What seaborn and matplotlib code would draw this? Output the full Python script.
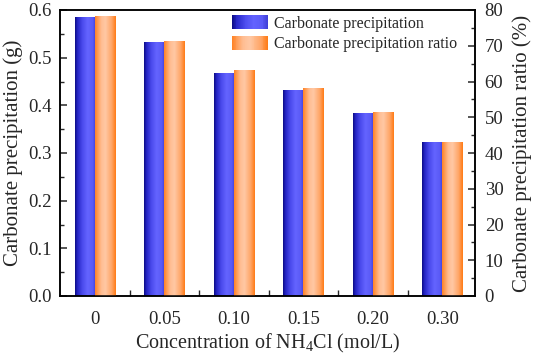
import numpy as np
import pandas as pd
import matplotlib
matplotlib.use("Agg")
import matplotlib.pyplot as plt
import seaborn as sns
from matplotlib.colors import LinearSegmentedColormap
from matplotlib.patches import Rectangle
from matplotlib.legend_handler import HandlerBase
from matplotlib.ticker import MultipleLocator, FixedLocator, FormatStrFormatter

# ---- data ----
concentrations = ["0", "0.05", "0.10", "0.15", "0.20", "0.30"]
precip_g = [0.585, 0.532, 0.467, 0.432, 0.382, 0.321]
ratio_pct = [78.3, 71.2, 63.2, 58.1, 51.2, 43.0]
series = ["Carbonate precipitation", "Carbonate precipitation ratio"]

n = len(concentrations)
df = pd.DataFrame({
    "conc": concentrations * 2,
    "series": [series[0]] * n + [series[1]] * n,
    "g": precip_g + [np.nan] * n,
    "pct": [np.nan] * n + ratio_pct,
})

sns.set_style("ticks")
plt.rcParams["font.family"] = ["Liberation Serif", "DejaVu Serif"]
plt.rcParams["mathtext.fontset"] = "custom"
plt.rcParams["mathtext.rm"] = "Liberation Serif"
plt.rcParams["axes.linewidth"] = 1.1

cmap_blue = LinearSegmentedColormap.from_list("b", [
    (0.0, "#0c0c84"), (0.12, "#2424c4"), (0.35, "#4a4aec"),
    (0.6, "#6464ff"), (0.85, "#5a5af6"), (1.0, "#3e3ed6")])
cmap_orange = LinearSegmentedColormap.from_list("o", [
    (0.0, "#ff8224"), (0.3, "#ffbd92"), (0.5, "#ffc8a4"),
    (0.8, "#ffa566"), (1.0, "#ff7a14")])

fig = plt.figure(figsize=(5.33, 3.55), dpi=100)
ax = fig.add_axes([60 / 533, 1 - 296 / 355, (475 - 60) / 533, (296 - 10) / 355])
ax2 = ax.twinx()

sns.barplot(data=df, x="conc", y="g", hue="series", hue_order=series,
            order=concentrations, ax=ax, width=0.58, errorbar=None,
            palette=["#5a5af6", "#ffb070"], legend=False, saturation=1)
sns.barplot(data=df, x="conc", y="pct", hue="series", hue_order=series,
            order=concentrations, ax=ax2, width=0.58, errorbar=None,
            palette=["#5a5af6", "#ffb070"], legend=False, saturation=1)

grad = np.linspace(0, 1, 256)[np.newaxis, :]


def paint(axis, cmap):
    for p in list(axis.patches):
        x0, y0, w, h = p.get_x(), p.get_y(), p.get_width(), p.get_height()
        if not (np.isfinite(h) and h > 0):
            p.set_visible(False)
            continue
        axis.imshow(grad, cmap=cmap, extent=[x0, x0 + w, y0, y0 + h],
                    aspect="auto", zorder=p.get_zorder(), interpolation="bilinear")
        p.set_visible(False)


paint(ax, cmap_blue)
paint(ax2, cmap_orange)

ax.set_xlim(-0.5, n - 0.53)
ax.set_ylim(0, 0.6)
ax2.set_ylim(0, 80)
ax.set_aspect("auto")
ax2.set_aspect("auto")

tick_fs = 13.5
lab_fs = 15
ax.yaxis.set_major_locator(MultipleLocator(0.1))
ax.yaxis.set_minor_locator(MultipleLocator(0.05))
ax.yaxis.set_major_formatter(FormatStrFormatter("%.1f"))
ax2.yaxis.set_major_locator(MultipleLocator(10))
ax2.yaxis.set_minor_locator(MultipleLocator(5))
ax.xaxis.set_minor_locator(FixedLocator(np.arange(n - 1) + 0.5))

ax.tick_params(axis="y", which="major", direction="in", length=5, width=1.1,
               labelsize=tick_fs, pad=6, left=True, right=False)
ax.tick_params(axis="y", which="minor", direction="in", length=3, width=1.0, left=True, right=False)
ax2.tick_params(axis="y", which="major", direction="in", length=5, width=1.1,
                labelsize=tick_fs, pad=7, right=True, left=False)
ax2.tick_params(axis="y", which="minor", direction="in", length=3, width=1.0, right=True, left=False)
ax.tick_params(axis="x", which="major", length=0, labelsize=tick_fs, pad=11)
ax.tick_params(axis="x", which="minor", direction="in", length=4, width=1.0, top=False)

ax.set_xlabel("Concentration of NH$_4$Cl (mol/L)", fontsize=14.5, labelpad=3)
ax.set_ylabel("Carbonate precipitation (g)", fontsize=lab_fs, labelpad=4)
ax2.set_ylabel("Carbonate precipitation ratio (%)", fontsize=lab_fs, labelpad=6)

for a in (ax, ax2):
    for s in a.spines.values():
        s.set_visible(True)
        s.set_linewidth(1.1)
        s.set_color("black")


class GradHandler(HandlerBase):
    def __init__(self, cmap):
        super().__init__()
        self.cmap = cmap

    def create_artists(self, legend, orig_handle, xdescent, ydescent,
                       width, height, fontsize, trans):
        k = 40
        arts = []
        for i in range(k):
            arts.append(Rectangle((-xdescent + width * i / k, -ydescent),
                                  width / k * 1.05, height,
                                  facecolor=self.cmap((i + 0.5) / k),
                                  edgecolor="none", transform=trans))
        return arts


h1 = Rectangle((0, 0), 1, 1)
h2 = Rectangle((0, 0), 1, 1)
ax2.legend([h1, h2], series, handler_map={h1: GradHandler(cmap_blue), h2: GradHandler(cmap_orange)},
           loc="upper left", bbox_to_anchor=(232 / 533, 1 - 15 / 355),
           bbox_transform=fig.transFigure, frameon=False, fontsize=11.5,
           handlelength=2.25, handleheight=1.0, handletextpad=0.35,
           labelspacing=0.25, borderpad=0, borderaxespad=0)

fig.savefig("out.png", dpi=100)
